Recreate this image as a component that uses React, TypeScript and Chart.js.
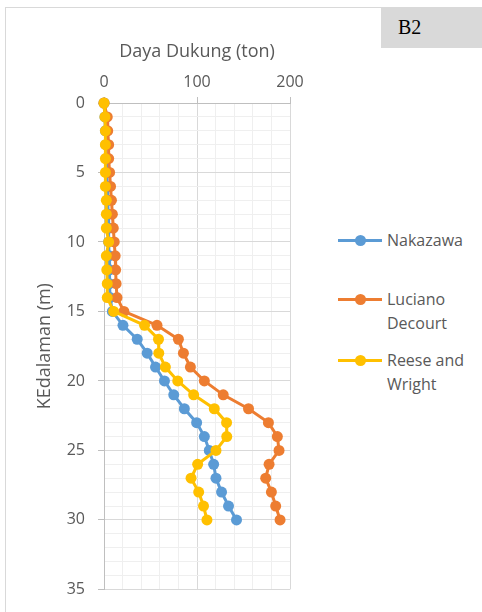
import React, { useEffect, useRef } from "react";
import { Chart, registerables } from "chart.js";

Chart.register(...registerables);

const depths = [0, 1, 2, 3, 4, 5, 6, 7, 8, 9, 10, 11, 12, 13, 14, 15, 16, 17, 18, 19, 20, 21, 22, 23, 24, 25, 26, 27, 28, 29, 30];
const nakazawa = [0, 1, 1.5, 2, 2.5, 3, 3.5, 4, 4.5, 5, 5, 5.5, 6, 6, 6.5, 9, 20.4, 35.7, 46.4, 55.4, 65, 75, 86.4, 99.6, 107.9, 113.2, 117.9, 120.4, 126.4, 133.9, 142.5];
const lucianoDecourt = [0, 3.5, 4, 5, 5, 6, 7, 8, 9, 10, 11, 12, 12.5, 13, 14, 21.4, 57, 80, 85.4, 92.9, 107.9, 128.2, 155.4, 176.8, 186.4, 188.2, 177.5, 173.9, 180, 184.6, 189.3];
const reeseWright = [0, 1, 1.5, 1.5, 1.5, 1.5, 1.5, 2.5, 2.5, 2.5, 5, 2.5, 3, 3.5, 3.5, 10.4, 43.6, 58.6, 58.9, 66, 79.3, 96.4, 118.6, 131.8, 132, 120.4, 100.7, 93.6, 101.8, 107, 110.7];
const seriesNames = ["Nakazawa", "Luciano Decourt", "Reese and Wright"];
const legendLines = [["Nakazawa"], ["Luciano", "Decourt"], ["Reese and", "Wright"]];
const seriesColors = ["#5B9BD5", "#ED7D31", "#FFC000"];
const xTickLabels = [0, 100, 200];
const yTickLabels = [0, 5, 10, 15, 20, 25, 30, 35];

const FONT = "'Open Sans', sans-serif";
const TEXT = "#595959";

export default function App() {
  const ref = useRef<HTMLCanvasElement>(null);
  useEffect(() => {
    const values = [nakazawa, lucianoDecourt, reeseWright];
    const chart = new Chart(ref.current!, {
      type: "scatter",
      data: {
        datasets: values.map((vals, i) => ({
          label: seriesNames[i],
          data: depths.map((d, j) => ({ x: vals[j], y: d })),
          showLine: true,
          borderColor: seriesColors[i],
          backgroundColor: seriesColors[i],
          borderWidth: 3,
          pointRadius: 5.5,
          pointBorderWidth: 0,
          pointHoverRadius: 5.5,
          clip: false as any,
          order: 3 - i,
        })),
      },
      options: {
        responsive: false,
        animation: false,
        events: [],
        layout: { padding: { left: 0, top: 0, right: 40, bottom: 20 } },
        plugins: { legend: { display: false }, tooltip: { enabled: false } },
        scales: {
          x: {
            type: "linear",
            position: "top",
            min: 0,
            max: 200,
            afterFit: (s: any) => { s.height = 103; },
            title: {
              display: true,
              text: "Daya Dukung (ton)",
              color: TEXT,
              font: { family: FONT, size: 18 },
              padding: { top: 41, bottom: 0 },
            },
            ticks: {
              stepSize: 20,
              autoSkip: false,
              maxRotation: 0,
              color: TEXT,
              font: { family: FONT, size: 16 },
              padding: 5,
              callback: (v: any) => (xTickLabels.includes(Number(v)) ? String(v) : ""),
            },
            grid: {
              color: (c: any) => (c.tick && c.tick.value % 100 === 0 ? "#d9d9d9" : "#efefef"),
              tickColor: (c: any) => (c.tick && c.tick.value % 100 === 0 ? "#bfbfbf" : "rgba(0,0,0,0)"),
              tickLength: 6,
              lineWidth: 1,
            },
            border: { color: "#bfbfbf", width: 1 },
          },
          y: {
            type: "linear",
            reverse: true,
            min: 0,
            max: 35,
            afterFit: (s: any) => { s.width = 104; },
            title: {
              display: true,
              text: "KEdalaman (m)",
              color: TEXT,
              font: { family: FONT, size: 18 },
              padding: { top: 34, bottom: 0 },
            },
            ticks: {
              stepSize: 1,
              autoSkip: false,
              color: TEXT,
              font: { family: FONT, size: 16 },
              padding: 13,
              callback: (v: any) => (yTickLabels.includes(Number(v)) ? String(v) : ""),
            },
            grid: {
              color: (c: any) => (c.tick && c.tick.value % 5 === 0 ? "#d9d9d9" : "#efefef"),
              tickColor: (c: any) => (c.tick && c.tick.value % 5 === 0 ? "#bfbfbf" : "rgba(0,0,0,0)"),
              tickLength: 6,
              lineWidth: 1,
            },
            border: { color: "#bfbfbf", width: 1 },
          },
        },
      },
    });
    return () => chart.destroy();
  }, []);

  const legendTops = [240, 299, 360];
  return (
    <div style={{ position: "absolute", left: 0, top: 0, width: 482, height: 612, overflow: "hidden", background: "#fff" }}>
      <div style={{ position: "absolute", left: 5, top: 7, width: 520, height: 700, border: "1px solid #d9d9d9", boxSizing: "border-box" }} />
      <canvas ref={ref} width={330} height={612} style={{ position: "absolute", left: 0, top: 0, width: 330, height: 612 }} />
      <div style={{ position: "absolute", left: 381, top: 7, width: 101, height: 41, background: "#d9d9d9", fontFamily: "'Liberation Serif', serif", fontSize: 20, color: "#000", lineHeight: "41px", paddingLeft: 17, boxSizing: "border-box" }}>B2</div>
      {legendLines.map((lines, i) => (
        <div key={i}>
          <div style={{ position: "absolute", left: 338, top: legendTops[i] - 1.5, width: 44, height: 3, background: seriesColors[i] }} />
          <div style={{ position: "absolute", left: 354.5, top: legendTops[i] - 5.5, width: 11, height: 11, borderRadius: "50%", background: seriesColors[i] }} />
          <div style={{ position: "absolute", left: 387, top: legendTops[i] - 12, fontFamily: FONT, fontSize: 16, lineHeight: "24px", color: TEXT, whiteSpace: "nowrap" }}>
            {lines.map((t, k) => (<div key={k}>{t}</div>))}
          </div>
        </div>
      ))}
    </div>
  );
}
